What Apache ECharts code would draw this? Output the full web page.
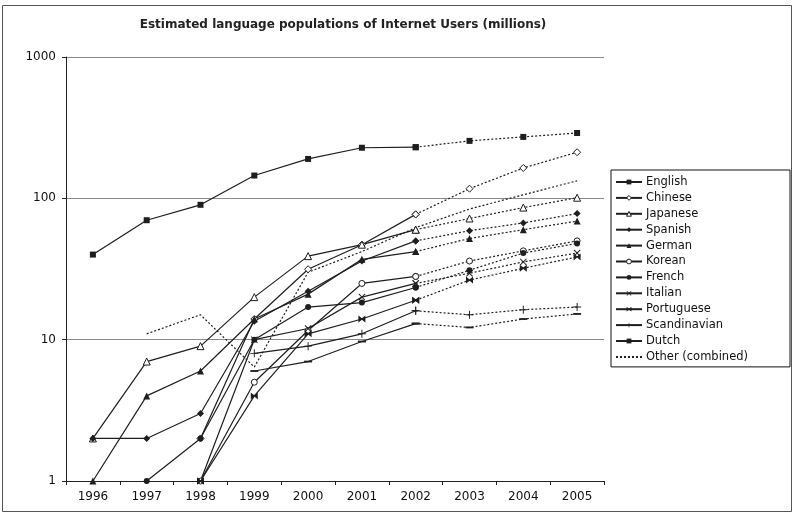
<!DOCTYPE html>
<html>
<head>
<meta charset="utf-8">
<script src="https://cdn.jsdelivr.net/npm/echarts@6/dist/echarts.min.js"></script>
<style>
  html, body { margin: 0; padding: 0; background: #fff; }
  #chart { width: 794px; height: 515px; }
</style>
</head>
<body>
<div id="chart"></div>
<script>
// Estimated language populations of Internet users, millions.
// Values up to 2002 are measured; 2002 onwards are projections (dotted).
const years = ['1996', '1997', '1998', '1999', '2000', '2001', '2002', '2003', '2004', '2005'];
const yTicks = [1, 10, 100, 1000];
const projectionFrom = 6; // index of 2002

const english      = [40, 70, 90, 145, 190, 228, 230, 255, 272, 290];
const chinese      = [null, null, 2, 14, 31.5, 47, 77, 117, 164, 212];
const japanese     = [2, 7, 9, 20, 39, 47, 60, 72, 86, 101];
const spanish      = [2, 2, 3, 13.5, 22, 36, 50, 59, 67, 78];
const german       = [1, 4, 6, 14, 21, 37, 42, 52, 60, 69];
const korean       = [null, null, 1, 5, 11.6, 25, 28, 36, 42.5, 50];
const french       = [null, 1, 2, 10, 17, 18.3, 23.4, 31, 41, 48];
const italian      = [null, null, 1, 10, 12, 20, 25, 29.5, 35.5, 41];
const portuguese   = [null, null, 1, 4, 11, 14, 19, 26.4, 32, 38.5];
const scandinavian = [null, null, null, 8, 9, 11, 16, 15, 16.3, 17];
const dutch        = [null, null, null, 6, 7, 9.7, 13, 12.2, 14, 15.2];
const other        = [null, 11, 15, 6.4, 30, 42, 62, 84, 106, 133];

const INK = '#1e1e1e';

// marker shapes
const crossX = 'path://M0,1L1,0L5,4L9,0L10,1L6,5L10,9L9,10L5,6L1,10L0,9L4,5Z';
const bowtie = 'path://M0,0L5,4L10,0L10,10L5,6L0,10Z';
const plus   = 'path://M4.4,0H5.6V4.4H10V5.6H5.6V10H4.4V5.6H0V4.4H4.4Z';
const dash   = 'path://M0,0H10V2H0Z';

const languages = [
  { name: 'English',      data: english,      symbol: 'rect',     size: 6, open: false },
  { name: 'Chinese',      data: chinese,      symbol: 'diamond',  size: 7, open: true },
  { name: 'Japanese',     data: japanese,     symbol: 'triangle', size: 7, open: true },
  { name: 'Spanish',      data: spanish,      symbol: 'diamond',  size: 7, open: false },
  { name: 'German',       data: german,       symbol: 'triangle', size: 7, open: false },
  { name: 'Korean',       data: korean,       symbol: 'circle',   size: 6, open: true },
  { name: 'French',       data: french,       symbol: 'circle',   size: 6, open: false },
  { name: 'Italian',      data: italian,      symbol: crossX,     size: 7, open: false },
  { name: 'Portuguese',   data: portuguese,   symbol: bowtie,     size: 7, open: false },
  { name: 'Scandinavian', data: scandinavian, symbol: plus,       size: 8, open: false },
  { name: 'Dutch',        data: dutch,        symbol: dash,       size: [8, 1.8], open: false }
];

function markerStyle(open) {
  return open
    ? { color: '#fff', borderColor: INK, borderWidth: 1 }
    : { color: INK, borderColor: INK, borderWidth: 0 };
}

const series = [];
languages.forEach(function (l) {
  const measured = l.data.map(function (v, i) { return i <= projectionFrom ? v : null; });
  const projected = l.data.map(function (v, i) { return i >= projectionFrom ? v : null; });
  series.push({
    name: l.name, type: 'line', data: measured,
    symbol: l.symbol, symbolSize: l.size, showSymbol: true,
    lineStyle: { color: INK, width: 1.2, type: 'solid' },
    itemStyle: markerStyle(l.open),
    emphasis: { disabled: true }, animation: false, z: 3
  });
  series.push({
    name: l.name + ' (projected)', type: 'line', data: projected,
    symbol: l.symbol, symbolSize: l.size, showSymbol: true,
    lineStyle: { color: INK, width: 1.2, type: [2, 2] },
    itemStyle: markerStyle(l.open),
    emphasis: { disabled: true }, animation: false, z: 3
  });
});
series.push({
  name: 'Other (combined)', type: 'line', data: other,
  symbol: 'none', showSymbol: false,
  lineStyle: { color: INK, width: 1.2, type: [2, 2] },
  itemStyle: { color: INK },
  emphasis: { disabled: true }, animation: false, z: 2
});

const legendItems = languages.map(function (l) {
  return {
    name: l.name,
    itemStyle: l.open
      ? { color: '#fff', borderColor: INK, borderWidth: 1 }
      : { color: INK, borderWidth: 0 }
  };
}).concat([{ name: 'Other (combined)', itemStyle: { color: 'rgba(0,0,0,0)', borderWidth: 0 } }]);

const chart = echarts.init(document.getElementById('chart'), null, { renderer: 'canvas' });
chart.setOption({
  backgroundColor: '#fff',
  animation: false,
  textStyle: { fontFamily: 'DejaVu Sans' },
  title: {
    text: 'Estimated language populations of Internet Users (millions)',
    left: 338, top: 14, textAlign: 'center',
    textStyle: { fontFamily: 'DejaVu Sans', fontSize: 12, fontWeight: 'bold', color: '#222' }
  },
  graphic: [{
    type: 'rect', shape: { x: 2.5, y: 5.5, width: 789, height: 506 },
    style: { fill: 'none', stroke: '#555', lineWidth: 1 }, silent: true
  }],
  legend: {
    orient: 'vertical', left: 611, top: 170,
    padding: [6, 42, 4, 4],
    itemWidth: 26, itemHeight: 6, itemGap: 3.9,
    borderColor: '#111', borderWidth: 1,
    data: legendItems,
    textStyle: { fontFamily: 'DejaVu Sans', fontSize: 11.5, color: '#111', padding: [0, 0, 0, -1] }
  },
  grid: { left: 66, right: 190, top: 57, bottom: 34 },
  xAxis: {
    type: 'category', data: years, boundaryGap: true,
    axisLine: { lineStyle: { color: '#222', width: 1 } },
    axisTick: { show: true, length: 4, lineStyle: { color: '#222' } },
    axisLabel: { fontFamily: 'DejaVu Sans', fontSize: 12, color: '#111', margin: 10 },
    splitLine: { show: false }
  },
  yAxis: {
    type: 'log', logBase: 10, min: yTicks[0], max: yTicks[yTicks.length - 1],
    axisLine: { show: true, lineStyle: { color: '#222', width: 1 } },
    axisTick: { show: true, length: 4, lineStyle: { color: '#222' } },
    axisLabel: {
      fontFamily: 'DejaVu Sans', fontSize: 12, color: '#111', margin: 10,
      formatter: function (v) { return String(Math.round(v)); }
    },
    splitLine: { show: true, lineStyle: { color: '#8a8a8a', width: 1 } },
    minorTick: { show: false }
  },
  series: series
});
</script>
</body>
</html>
